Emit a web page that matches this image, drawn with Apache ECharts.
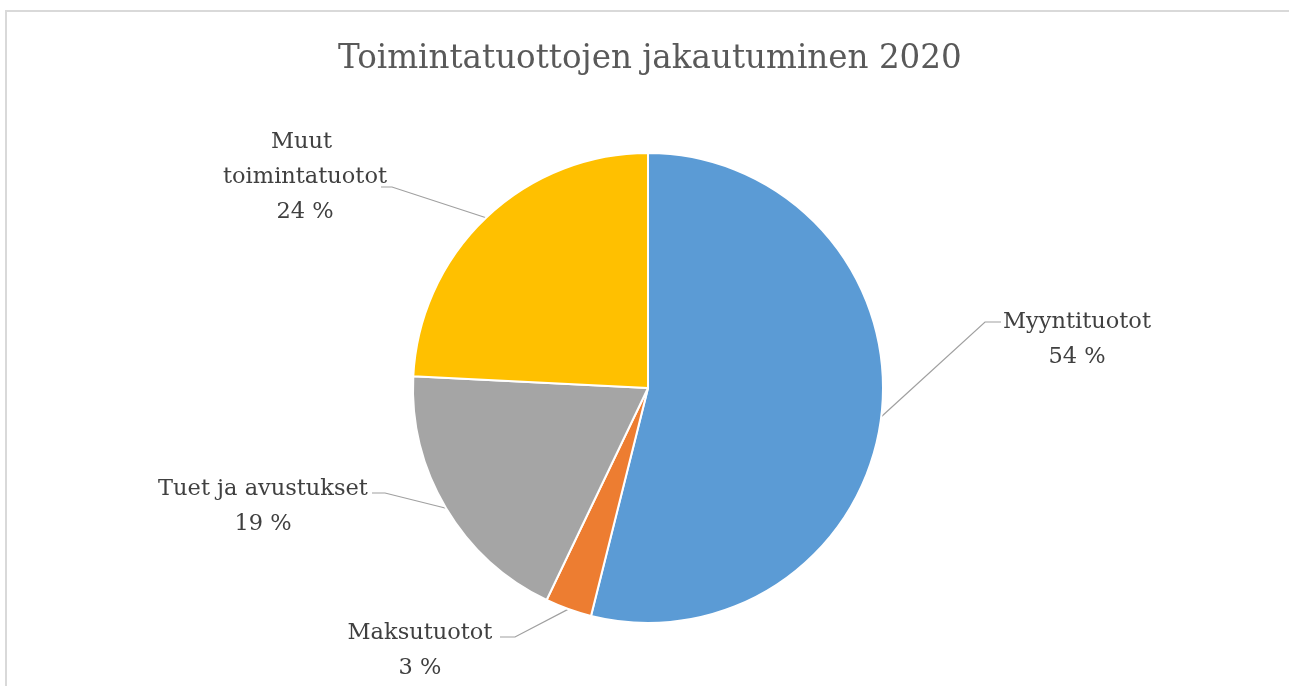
<!DOCTYPE html>
<html>
<head>
<meta charset="utf-8">
<script src="https://cdn.jsdelivr.net/npm/echarts@6/dist/echarts.min.js"></script>
<style>
html,body{margin:0;padding:0;background:#fff;}
#c{width:1289px;height:686px;}
</style>
</head>
<body>
<div id="c"></div>
<script>
const titleText = 'Toimintatuottojen jakautuminen 2020';
const categories = ['Myyntituotot', 'Maksutuotot', 'Tuet ja avustukset', 'Muut toimintatuotot'];
const values = [53.9, 3.2, 18.7, 24.2];
const colors = ['#5B9BD5', '#ED7D31', '#A5A5A5', '#FFC000'];

// label placement (layout only)
const labelPos = [
  {x: 1077, y: 340, align: 'center', mid: [985, 322], end: [1001, 322]},
  {x: 420, y: 651, align: 'center', mid: [515, 637], end: [500, 637]},
  {x: 263, y: 507, align: 'center', mid: [385, 493], end: [372, 493]},
  {x: 305, y: 177, align: 'center', mid: [392, 187], end: [381, 187]}
];

const FONT = 'DejaVu Serif';
const chart = echarts.init(document.getElementById('c'));
chart.setOption({
  animation: false,
  backgroundColor: '#fff',
  title: {
    text: titleText,
    left: 333,
    top: 38,
    textStyle: {fontFamily: FONT, fontSize: 32.6, fontWeight: 'normal', color: '#595959'}
  },
  graphic: [{
    type: 'rect', z: -1, silent: true,
    shape: {x: 6, y: 11, width: 1400, height: 800},
    style: {fill: null, stroke: '#d9d9d9', lineWidth: 2}
  }],
  series: [{
    type: 'pie',
    center: [648, 388],
    radius: 235,
    startAngle: 90,
    clockwise: true,
    itemStyle: {borderColor: '#fff', borderWidth: 2},
    label: {
      show: true,
      fontFamily: FONT,
      fontSize: 22.5,
      color: '#404040',
      lineHeight: 35,
      align: 'center',
      formatter: p => p.name + '\n' + Math.round(p.percent) + ' %'
    },
    labelLine: {show: true, lineStyle: {color: '#a0a0a0', width: 1.2}},
    labelLayout: function (params) {
      const lp = labelPos[params.dataIndex];
      const pts = params.labelLinePoints;
      const start = pts ? pts[0] : lp.mid;
      return {
        x: lp.x, y: lp.y, align: lp.align, verticalAlign: 'middle',
        labelLinePoints: [start, lp.mid, lp.end]
      };
    },
    data: categories.map((name, i) => {
      const d = {name: name, value: values[i], itemStyle: {color: colors[i]}};
      if (i === 3) d.label = {width: 185, overflow: 'break', align: 'center'};
      return d;
    })
  }]
});
</script>
</body>
</html>
